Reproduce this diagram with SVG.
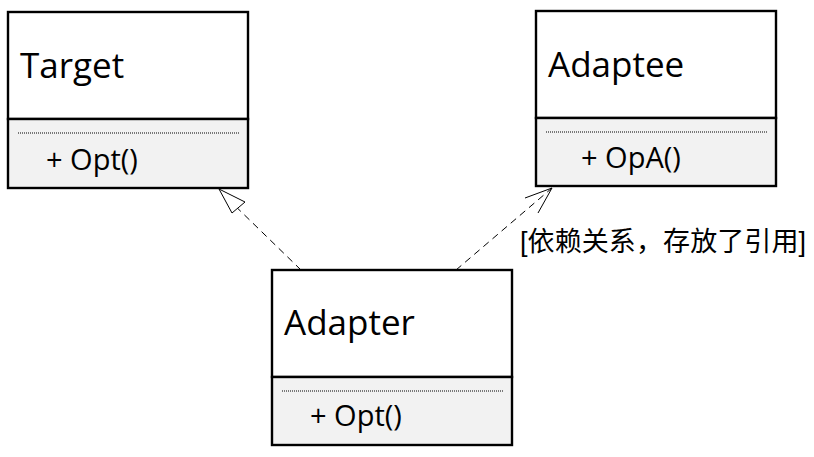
<svg xmlns="http://www.w3.org/2000/svg" width="814" height="457" viewBox="0 0 814 457">
<style>
.hdr{fill:#fff;stroke:#000;stroke-width:2.4}
.ops{fill:#f2f2f2;stroke:#000;stroke-width:2.4}
.dot{stroke:#000;stroke-width:1;stroke-dasharray:1 1}
.name{font-family:"Open Sans","Liberation Sans",sans-serif;font-size:35px;fill:#000}
.op{font-family:"Open Sans","Liberation Sans",sans-serif;font-size:29px;fill:#000}
.lbl{font-family:"Liberation Sans","Noto Sans CJK SC",sans-serif;font-size:27px;fill:#000}
.edge{fill:none;stroke:#000;stroke-width:1;stroke-dasharray:7 5}
</style>
<rect width="814" height="457" fill="#fff"/>
<g id="connectors">
<path class="edge" d="M301,270 L226,197"/>
<polygon points="219,189 232,213 245,202" fill="#fff" stroke="#000" stroke-width="1"/>
<path class="edge" d="M456,270 L552,188"/>
<path d="M525,198 L552,188 L538,213" fill="none" stroke="#000" stroke-width="1"/>
<text class="lbl" x="520" y="251" textLength="286" lengthAdjust="spacing">[依赖关系，存放了引用]</text>
</g>
<g id="Target">
<rect class="hdr" x="8" y="12" width="240" height="107"/>
<rect class="ops" x="8" y="119" width="240" height="69"/>
<line class="dot" x1="18" y1="133" x2="239" y2="133"/>
<text class="name" x="20" y="78">Target</text>
<text class="op" x="46" y="170">+ Opt()</text>
</g>
<g id="Adaptee">
<rect class="hdr" x="536" y="11" width="240" height="107"/>
<rect class="ops" x="536" y="118" width="240" height="68"/>
<line class="dot" x1="546" y1="132" x2="767" y2="132"/>
<text class="name" x="548" y="77">Adaptee</text>
<text class="op" x="581" y="168">+ OpA()</text>
</g>
<g id="Adapter">
<rect class="hdr" x="272" y="270" width="240" height="107"/>
<rect class="ops" x="272" y="377" width="240" height="68"/>
<line class="dot" x1="282" y1="391" x2="503" y2="391"/>
<text class="name" x="284" y="335">Adapter</text>
<text class="op" x="310" y="426">+ Opt()</text>
</g>
</svg>
